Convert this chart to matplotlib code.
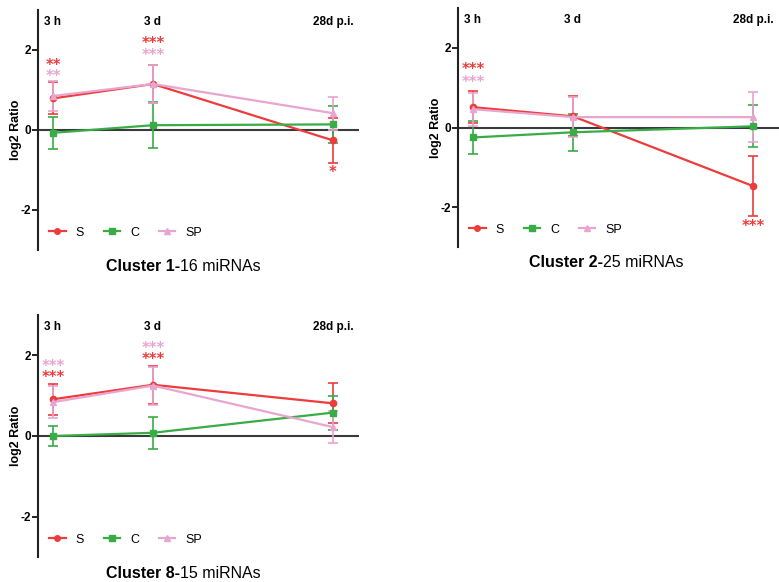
import numpy as np
import matplotlib.pyplot as plt
from matplotlib.lines import Line2D
from matplotlib.transforms import ScaledTranslation

plt.rcParams['font.family'] = ['Liberation Sans', 'DejaVu Sans']
plt.rcParams['axes.unicode_minus'] = False

# time points (placed on an uneven axis, 28d further out)
time_labels = ['3 h', '3 d', '28d p.i.']
x_pos = [0, 1, 2.8]

# cluster 1 - 16 miRNAs
c1_S = [0.79, 1.15, -0.26]
c1_S_err = [0.40, 0.47, 0.57]
c1_C = [-0.07, 0.12, 0.14]
c1_C_err = [0.40, 0.57, 0.46]
c1_SP = [0.85, 1.15, 0.42]
c1_SP_err = [0.38, 0.48, 0.41]

# cluster 2 - 25 miRNAs
c2_S = [0.51, 0.28, -1.47]
c2_S_err = [0.40, 0.50, 0.75]
c2_C = [-0.25, -0.12, 0.03]
c2_C_err = [0.41, 0.46, 0.53]
c2_SP = [0.46, 0.26, 0.26]
c2_SP_err = [0.41, 0.50, 0.62]

# cluster 8 - 15 miRNAs
c8_S = [0.91, 1.27, 0.81]
c8_S_err = [0.39, 0.47, 0.50]
c8_C = [0.00, 0.08, 0.58]
c8_C_err = [0.25, 0.40, 0.42]
c8_SP = [0.84, 1.25, 0.22]
c8_SP_err = [0.40, 0.47, 0.39]

# significance marks: (time index, text, series, y)
c1_stars = [(0, '**', 'S', 1.69), (0, '**', 'SP', 1.42),
            (1, '***', 'S', 2.25), (1, '***', 'SP', 1.95),
            (2, '*', 'S', -0.97)]
c2_stars = [(0, '***', 'S', 1.54), (0, '***', 'SP', 1.21),
            (2, '***', 'S', -2.40)]
c8_stars = [(0, '***', 'SP', 1.82), (0, '***', 'S', 1.54),
            (1, '***', 'SP', 2.25), (1, '***', 'S', 1.99)]

colors = {'S': '#ee3b3b', 'C': '#39ac47', 'SP': '#e8a5cf'}
markers = {'S': 'o', 'C': 's', 'SP': '^'}

W, H = 779, 582
fig = plt.figure(figsize=(W / 100, H / 100), dpi=100)
# the asterisk glyph sits high in its box, nudge it down a little
star_shift = ScaledTranslation(0, -2.5 / 72, fig.dpi_scale_trans)


def px_axes(left, top, right, bottom):
    return fig.add_axes([left / W, 1 - bottom / H, (right - left) / W, (bottom - top) / H])


def draw_panel(ax, S, S_err, C, C_err, SP, SP_err, stars):
    ax.axhline(0, color='#3a3a3a', lw=1.5, zorder=1)
    series = [('S', S, S_err), ('C', C, C_err), ('SP', SP, SP_err)]
    for name, vals, err in series:
        ax.errorbar(x_pos, vals, yerr=err, color=colors[name], marker=markers[name],
                    ms=4.5, lw=1.6, elinewidth=1.2, capsize=3.5, capthick=1.2, zorder=3)
    for i, txt, name, y in stars:
        ax.text(x_pos[i], y, txt, color=colors[name], fontsize=10.5, fontweight='bold',
                family='DejaVu Sans', ha='center', va='center',
                transform=ax.transData + star_shift)
    for xp, lab in zip(x_pos, time_labels):
        ax.text(xp, 0.95, lab, transform=ax.get_xaxis_transform(), fontsize=8.5,
                fontweight='bold', ha='center', va='center')
    ax.set_xlim(-0.15, 3.06)
    ax.set_ylim(-3, 3)
    ax.set_yticks([-2, 0, 2])
    ax.set_xticks([])
    for s in ['top', 'right', 'bottom']:
        ax.spines[s].set_visible(False)
    ax.spines['left'].set_color('#222222')
    ax.spines['left'].set_linewidth(1.5)
    ax.tick_params(axis='y', length=4, width=1.2, labelsize=8.5, pad=1)
    for lab in ax.get_yticklabels():
        lab.set_fontweight('bold')
    ax.set_ylabel('log2 Ratio', fontsize=9, fontweight='bold')
    ax.yaxis.set_label_coords(-0.05, 0.5)
    handles = [Line2D([], [], color=colors[n], marker=markers[n], ms=4, lw=1.6)
               for n in ['S', 'C', 'SP']]
    ax.legend(handles, ['S', 'C', 'SP'], loc='lower left', bbox_to_anchor=(0.0, 0.0),
              ncol=3, frameon=False, fontsize=9, handlelength=1.3,
              columnspacing=1.6, handletextpad=0.8)


def panel_title(x_split, y, bold_part, rest):
    fig.text(x_split / W, 1 - y / H, bold_part, fontsize=11.5, fontweight='bold',
             ha='right', va='center')
    fig.text(x_split / W, 1 - y / H, rest, fontsize=11.5, ha='left', va='center')


ax1 = px_axes(38, 10, 359, 250)
draw_panel(ax1, c1_S, c1_S_err, c1_C, c1_C_err, c1_SP, c1_SP_err, c1_stars)
panel_title(180, 267, 'Cluster 1-', '16 miRNAs')

ax2 = px_axes(458, 8, 779, 247)
draw_panel(ax2, c2_S, c2_S_err, c2_C, c2_C_err, c2_SP, c2_SP_err, c2_stars)
panel_title(603, 263, 'Cluster 2-', '25 miRNAs')

ax3 = px_axes(38, 315, 359, 557)
draw_panel(ax3, c8_S, c8_S_err, c8_C, c8_C_err, c8_SP, c8_SP_err, c8_stars)
panel_title(180, 573, 'Cluster 8-', '15 miRNAs')

fig.savefig('out.png', dpi=100)
